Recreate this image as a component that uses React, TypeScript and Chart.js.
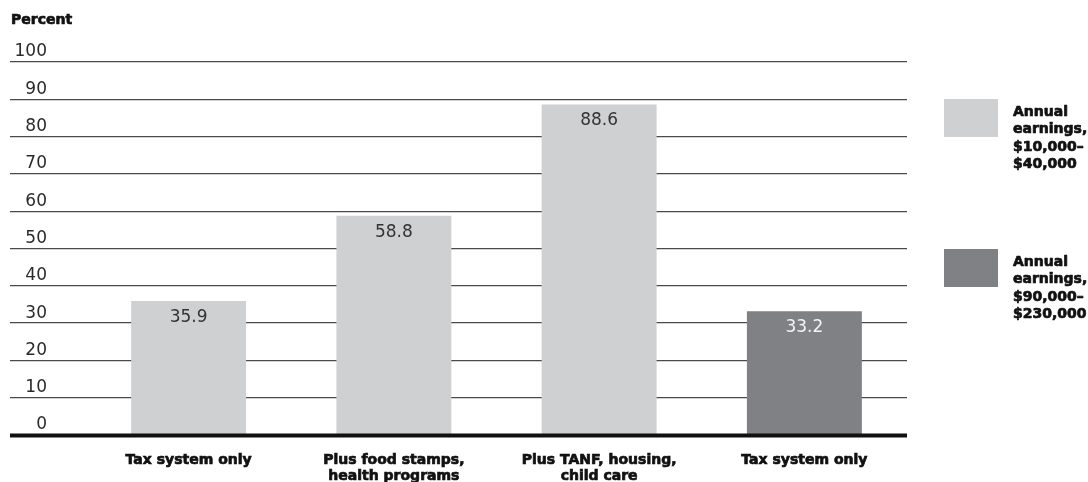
import React, { useEffect, useRef } from 'react';
import { Chart, registerables } from 'chart.js';

Chart.register(...registerables);

const categories: string[][] = [
  ['Tax system only'],
  ['Plus food stamps,', 'health programs'],
  ['Plus TANF, housing,', 'child care'],
  ['Tax system only'],
];
const values: number[] = [35.9, 58.8, 88.6, 33.2];
const barGroup: number[] = [0, 0, 0, 1];
const legendLabels: string[][] = [
  ['Annual', 'earnings,', '$10,000–', '$40,000'],
  ['Annual', 'earnings,', '$90,000–', '$230,000'],
];
const groupColors: string[] = ['#cfd0d2', '#808184'];
const valueTextColors: string[] = ['#333333', '#f4f4f4'];
const yMin = 0;
const yMax = 100;
const yStep = 10;
const axisTitle = 'Percent';

const BOLD = 'bold 14px "DejaVu Sans"';

function heavyText(ctx: CanvasRenderingContext2D, t: string, x: number, y: number) {
  ctx.strokeStyle = '#111111';
  ctx.lineWidth = 0.7;
  ctx.lineJoin = 'round';
  ctx.strokeText(t, x, y);
  ctx.fillText(t, x, y);
}

const overlayPlugin = {
  id: 'overlay',
  afterDatasetsDraw(chart: any) {
    const ctx = chart.ctx;
    const yScale = chart.scales.y;
    const meta = chart.getDatasetMeta(0);
    ctx.save();
    // value labels
    ctx.font = '17px "DejaVu Sans"';
    ctx.textAlign = 'center';
    ctx.textBaseline = 'middle';
    meta.data.forEach((bar: any, i: number) => {
      ctx.fillStyle = valueTextColors[barGroup[i]];
      ctx.fillText(String(values[i]), bar.x, bar.y + 16.5);
    });
    // zero line
    const y0 = yScale.getPixelForValue(0);
    ctx.strokeStyle = '#111111';
    ctx.lineWidth = 4;
    ctx.beginPath();
    ctx.moveTo(10, y0 + 0.5);
    ctx.lineTo(chart.chartArea.right, y0 + 0.5);
    ctx.stroke();
    // title
    ctx.font = BOLD;
    ctx.textAlign = 'left';
    ctx.fillStyle = '#111111';
    heavyText(ctx, axisTitle, 11, 20);
    // legend
    const boxTops = [99, 249];
    legendLabels.forEach((lines, g) => {
      ctx.fillStyle = groupColors[g];
      ctx.fillRect(944, boxTops[g], 54, 38);
      ctx.fillStyle = '#111111';
      ctx.font = BOLD;
      lines.forEach((ln, k) => {
        heavyText(ctx, ln, 1013, boxTops[g] + 13 + k * 17.5);
      });
    });
    ctx.restore();
  },
};

export default function App() {
  const ref = useRef<HTMLCanvasElement | null>(null);
  useEffect(() => {
    if (!ref.current) return;
    const chart = new Chart(ref.current, {
      type: 'bar',
      data: {
        labels: categories as any,
        datasets: [
          {
            data: values,
            backgroundColor: barGroup.map((g) => groupColors[g]),
            borderWidth: 0,
            barPercentage: 0.56,
            categoryPercentage: 1,
          },
        ],
      },
      options: {
        animation: false,
        responsive: false,
        devicePixelRatio: 1,
        layout: { padding: { left: 0, top: 62, right: 181, bottom: 0 } },
        plugins: {
          legend: { display: false },
          tooltip: { enabled: false },
          title: { display: false },
        },
        scales: {
          x: {
            grid: { display: false, drawTicks: false },
            border: { display: false },
            ticks: {
              font: { family: 'DejaVu Sans', size: 14, weight: 'bold', lineHeight: 15.5 / 14 },
              color: '#111111',
              textStrokeColor: '#111111',
              textStrokeWidth: 0.7,
              padding: 18,
              maxRotation: 0,
              autoSkip: false,
            },
            afterFit: (s: any) => {
              s.height = 47;
            },
          },
          y: {
            min: yMin,
            max: yMax,
            border: { display: false },
            grid: {
              drawTicks: true,
              tickLength: 76,
              color: (c: any) => (c.tick && c.tick.value === 0 ? 'rgba(0,0,0,0)' : '#4a4a4a'),
              lineWidth: 1.2,
            },
            ticks: {
              stepSize: yStep,
              font: { family: 'DejaVu Sans', size: 17 },
              color: '#2a2a2a',
              padding: -37,
              labelOffset: -10,
            },
            afterFit: (s: any) => {
              s.width = 86;
            },
          },
        },
      },
      plugins: [overlayPlugin],
    });
    return () => chart.destroy();
  }, []);
  return (
    <div style={{ position: 'absolute', left: 0, top: 0, width: 1088, height: 482, background: '#ffffff' }}>
      <canvas ref={ref} width={1088} height={482} style={{ display: 'block' }} />
    </div>
  );
}
